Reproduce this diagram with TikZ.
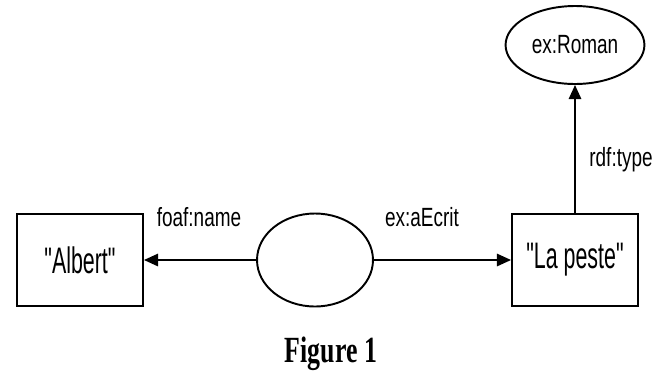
\documentclass[tikz,border=0pt]{standalone}
\usepackage{fontspec}
\setmainfont{Liberation Sans}
\newfontfamily\boxfont[FakeStretch=0.58]{Liberation Sans}
\newfontfamily\lblfont[FakeStretch=0.72]{Liberation Sans}
\newfontfamily\capfont[FakeStretch=0.7]{Liberation Serif}
\usetikzlibrary{arrows.meta, positioning, shapes.geometric}

\begin{document}
\begin{tikzpicture}[x=0.02cm, y=-0.02cm,
    lit/.style={draw=black, line width=1.1pt, minimum width=2.52cm, minimum height=1.84cm, font=\boxfont\fontsize{21}{24}\selectfont},
    res/.style={draw=black, ellipse, line width=1.1pt, font=\lblfont\fontsize{15}{17}\selectfont},
    prop/.style={font=\lblfont\fontsize{15}{17}\selectfont},
    rel/.style={line width=1.1pt, -{Triangle[length=8pt, width=7pt]}}]
    \useasboundingbox (0,0) rectangle (662,376);
    % nodes
    \node[lit] (albert) at (80,260) {"Albert"};
    \node[res, minimum width=2.32cm, minimum height=1.86cm] (blank) at (315,260) {};
    \node[lit] (peste) at (575,260) {"La peste"};
    \node[res, minimum width=2.6cm, minimum height=1.56cm] (roman) at (575,45) {ex:Roman};
    % edges
    \draw[rel] (blank) -- (albert);
    \draw[rel] (blank) -- (peste);
    \draw[rel] (peste) -- (roman);
    \node[prop] (fname) at (199,217) {foaf:name};
    \node[prop] (aecrit) at (422,217) {ex:aEcrit};
    \node[prop] (rtype) at (621,160) {rdf:type};
    \node[font=\capfont\bfseries\fontsize{21}{24}\selectfont] (caption) at (331,354) {Figure 1};
\end{tikzpicture}
\end{document}
